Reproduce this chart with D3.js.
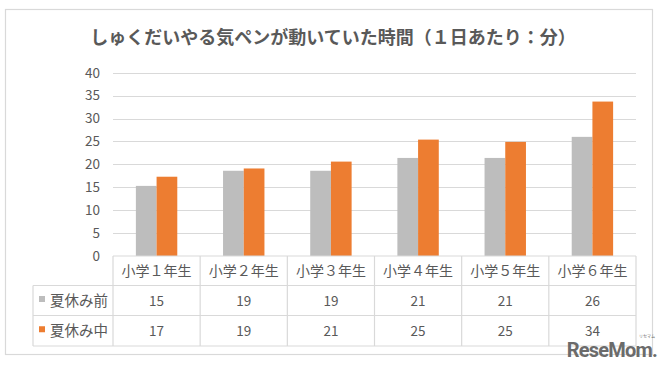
<!DOCTYPE html>
<html><head><meta charset="utf-8">
<script src="https://cdn.jsdelivr.net/npm/d3@7"></script>
<style>body{margin:0;background:#fff;}svg{display:block;}</style>
</head><body>
<svg id="c" width="668" height="367"></svg>
<script>
const categories = ["小学１年生","小学２年生","小学３年生","小学４年生","小学５年生","小学６年生"];
const seriesNames = ["夏休み前","夏休み中"];
const before = [15.3, 18.6, 18.6, 21.4, 21.4, 26.0];
const during = [17.3, 19.1, 20.6, 25.4, 24.9, 33.7];
const beforeLabels = ["15","19","19","21","21","26"];
const duringLabels = ["17","19","21","25","25","34"];
const yTicks = [0,5,10,15,20,25,30,35,40];
const colors = ["#BDBDBD","#ED7D31"];
const title = "しゅくだいやる気ペンが動いていた時間（１日あたり：分）";

const svg = d3.select("#c");
const font = "'Noto Sans CJK JP','Noto Sans',sans-serif";
const textCol = "#595959", lineCol = "#D9D9D9";

svg.append("rect").attr("x",5.5).attr("y",9.5).attr("width",647).attr("height",345)
  .attr("fill","#fff").attr("stroke","#D9D9D9").attr("stroke-width",1.2);

svg.append("text").attr("x",333).attr("y",44).attr("text-anchor","middle")
  .attr("font-family",font).attr("font-weight","bold").attr("font-size",18)
  .attr("fill",textCol).text(title);

const x0 = 113, x1 = 636;
const x = d3.scaleBand().domain(categories).range([x0,x1]);
const y = d3.scaleLinear().domain([0,40]).range([256,72.7]);
const xs = d3.scaleBand().domain(seriesNames).range([0, x.bandwidth()*0.475]);

// gridlines
svg.append("g").selectAll("line").data(yTicks.filter(d=>d>0)).join("line")
  .attr("x1",x0).attr("x2",x1).attr("y1",d=>Math.round(y(d))+0.5).attr("y2",d=>Math.round(y(d))+0.5)
  .attr("stroke",lineCol).attr("stroke-width",1);

// y axis labels
const yAxis = d3.axisLeft(y).tickValues(yTicks).tickSize(0).tickPadding(0);
const ya = svg.append("g").attr("transform","translate(100,0)").call(yAxis);
ya.select(".domain").remove();
ya.selectAll("text").attr("font-family",font).attr("font-size",13.5).attr("fill",textCol);

// bars
const series = [before, during];
series.forEach((vals,si)=>{
  svg.append("g").selectAll("rect").data(vals).join("rect")
    .attr("x",(d,i)=>x(categories[i]) + x.bandwidth()/2 - x.bandwidth()*0.475/2 + xs(seriesNames[si]))
    .attr("y",d=>y(d)).attr("width",xs.bandwidth()).attr("height",d=>y(0)-y(d))
    .attr("fill",colors[si]);
});

// table
const rowTops = [256, 285.5, 315.5, 346];
const tg = svg.append("g").attr("stroke",lineCol).attr("stroke-width",1.2).attr("fill","none");
tg.append("line").attr("x1",x0).attr("x2",x1).attr("y1",rowTops[0]).attr("y2",rowTops[0]);
tg.append("line").attr("x1",33).attr("x2",x1).attr("y1",rowTops[1]).attr("y2",rowTops[1]);
tg.append("line").attr("x1",33).attr("x2",x1).attr("y1",rowTops[2]).attr("y2",rowTops[2]);
tg.append("line").attr("x1",33).attr("x2",x1).attr("y1",rowTops[3]).attr("y2",rowTops[3]);
tg.append("line").attr("x1",33).attr("x2",33).attr("y1",rowTops[1]).attr("y2",rowTops[3]);
const bounds = categories.map(c=>x(c)).concat([x1]);
tg.selectAll("line.v").data(bounds).join("line").attr("class","v")
  .attr("x1",d=>d).attr("x2",d=>d).attr("y1",rowTops[0]).attr("y2",rowTops[3]);

// header
svg.append("g").selectAll("text").data(categories).join("text")
  .attr("x",d=>x(d)+x.bandwidth()/2).attr("y",(rowTops[0]+rowTops[1])/2+5)
  .attr("text-anchor","middle").attr("font-family",font).attr("font-size",14)
  .attr("fill",textCol).text(d=>d);

[beforeLabels, duringLabels].forEach((labs,ri)=>{
  const cy = (rowTops[ri+1]+rowTops[ri+2])/2;
  svg.append("g").selectAll("text").data(labs).join("text")
    .attr("x",(d,i)=>x(categories[i])+x.bandwidth()/2).attr("y",cy+5)
    .attr("text-anchor","middle").attr("font-family",font).attr("font-size",13.5)
    .attr("fill",textCol).text(d=>d);
  svg.append("rect").attr("x",39).attr("y",cy-4.5).attr("width",6).attr("height",6).attr("fill",colors[ri]);
  svg.append("text").attr("x",50).attr("y",cy+5).attr("font-family",font).attr("font-size",14.5)
    .attr("fill",textCol).text(seriesNames[ri]);
});

// watermark
svg.append("text").attr("x",657).attr("y",357).attr("text-anchor","end")
  .attr("font-family","'Roboto','Liberation Sans',sans-serif").attr("font-weight","bold")
  .attr("font-size",20).attr("letter-spacing",-0.8).attr("fill","#6b6b6b").text("ReseMom.");
svg.append("text").attr("x",647).attr("y",338).attr("text-anchor","middle")
  .attr("font-family",font).attr("font-size",4).attr("fill","#6b6b6b").text("リセマム");
</script>
</body></html>
